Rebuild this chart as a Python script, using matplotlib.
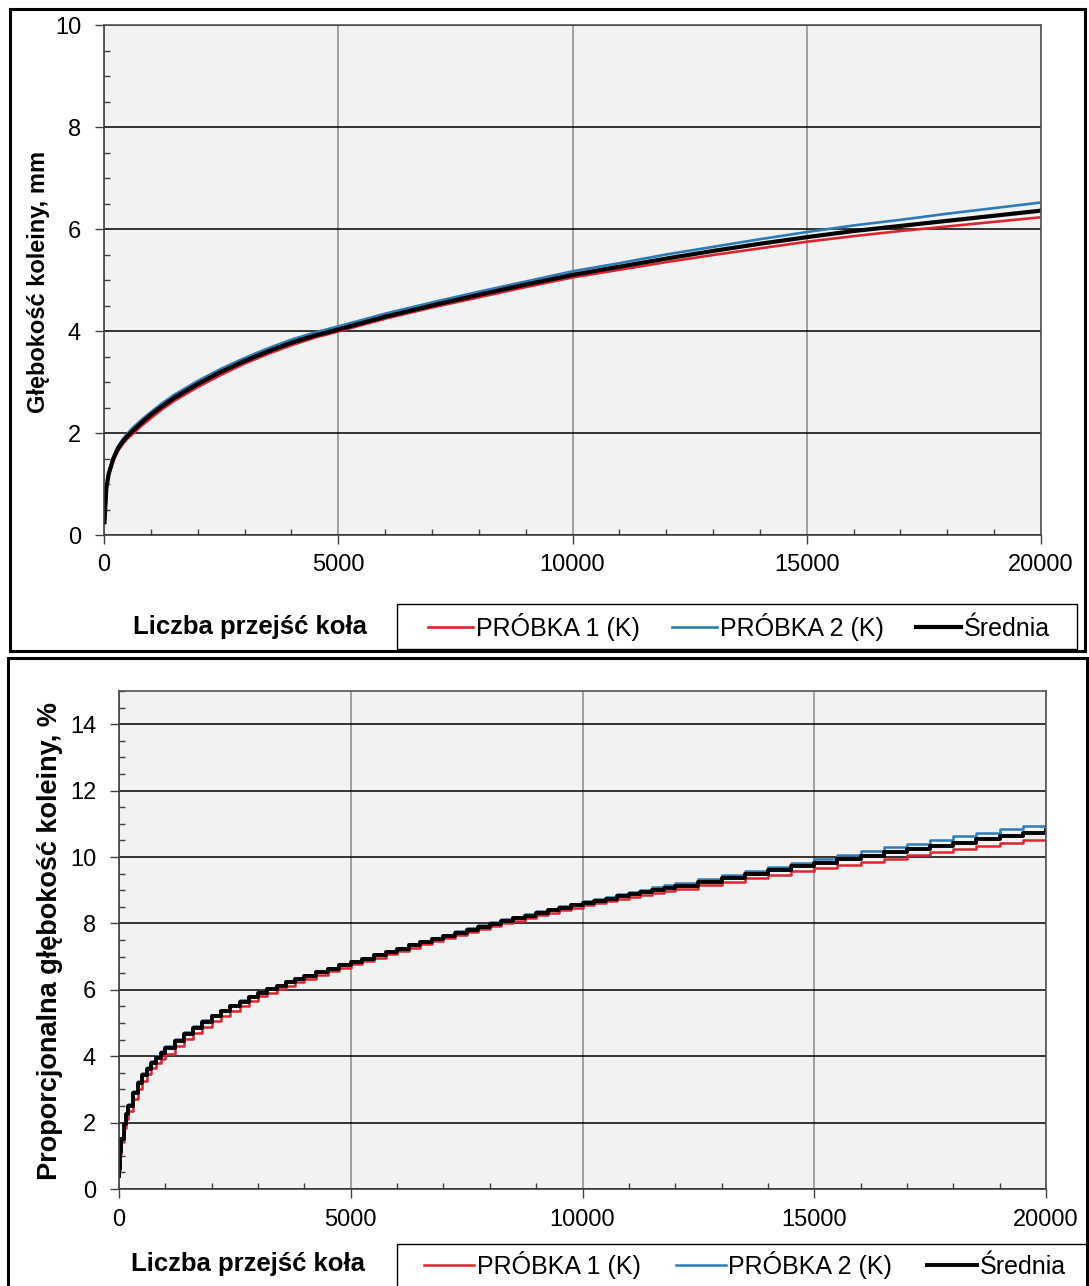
import matplotlib
matplotlib.use('Agg')
import matplotlib.pyplot as plt
from matplotlib.patches import Rectangle
from matplotlib.ticker import MultipleLocator

plt.rcParams['font.family'] = ['Liberation Sans', 'DejaVu Sans']

# ---------------- data ----------------
x_top = [10, 50, 100, 200, 300, 400, 500, 600, 800, 1000, 1250, 1500, 2000, 2500,
         3000, 3500, 4000, 4500, 5000, 6000, 7000, 8000, 9000, 10000, 11000, 12000,
         13000, 14000, 15000, 16000, 17000, 18000, 19000, 20000]
red_top = [0.25, 0.90, 1.17, 1.46, 1.65, 1.78, 1.89, 1.97, 2.14, 2.29, 2.47, 2.63, 2.90,
           3.14, 3.36, 3.55, 3.72, 3.87, 3.99, 4.24, 4.46, 4.66, 4.86, 5.05, 5.20, 5.35,
           5.49, 5.62, 5.75, 5.86, 5.96, 6.05, 6.14, 6.23]
blue_top = [0.25, 0.93, 1.22, 1.53, 1.74, 1.88, 1.99, 2.09, 2.26, 2.41, 2.59, 2.75, 3.02,
            3.26, 3.47, 3.66, 3.83, 3.97, 4.09, 4.34, 4.56, 4.77, 4.97, 5.17, 5.33, 5.50,
            5.65, 5.80, 5.94, 6.07, 6.18, 6.30, 6.41, 6.52]
mean_top = [0.25, 0.92, 1.20, 1.50, 1.70, 1.83, 1.94, 2.03, 2.20, 2.36, 2.53, 2.69, 2.96,
            3.20, 3.41, 3.60, 3.77, 3.91, 4.03, 4.28, 4.50, 4.71, 4.91, 5.10, 5.26, 5.42,
            5.57, 5.71, 5.84, 5.96, 6.06, 6.16, 6.26, 6.36]

x_bot = [0, 10, 25, 50, 100, 150, 200, 300, 400, 500, 600, 700, 800, 900,
         1000, 1200, 1400, 1600, 1800, 2000, 2200, 2400, 2600, 2800, 3000, 3200, 3400, 3600, 3800,
         4000, 4250, 4500, 4750, 5000, 5250, 5500, 5750, 6000, 6250, 6500, 6750,
         7000, 7250, 7500, 7750, 8000, 8250, 8500, 8750, 9000, 9250, 9500, 9750,
         10000, 10250, 10500, 10750, 11000, 11250, 11500, 11750,
         12000, 12500, 13000, 13500, 14000, 14500, 15000, 15500, 16000, 16500,
         17000, 17500, 18000, 18500, 19000, 19500, 20000]
red_bot = [0.38, 0.57, 1.05, 1.43, 1.85, 2.12, 2.35, 2.72, 3.01, 3.25, 3.45, 3.63, 3.79, 3.93,
           4.07, 4.30, 4.51, 4.70, 4.88, 5.06, 5.22, 5.37, 5.51, 5.65, 5.80, 5.91, 6.02, 6.12, 6.22,
           6.33, 6.44, 6.56, 6.66, 6.77, 6.87, 6.97, 7.07, 7.17, 7.27, 7.37, 7.47,
           7.56, 7.65, 7.74, 7.83, 7.92, 8.00, 8.08, 8.16, 8.24, 8.32, 8.39, 8.47,
           8.54, 8.60, 8.67, 8.73, 8.80, 8.86, 8.92, 8.98,
           9.04, 9.15, 9.26, 9.37, 9.47, 9.57, 9.66, 9.76, 9.86, 9.95,
           10.05, 10.14, 10.23, 10.32, 10.41, 10.50, 10.59]
blue_bot = [0.40, 0.62, 1.12, 1.53, 2.00, 2.30, 2.56, 2.94, 3.24, 3.48, 3.68, 3.86, 4.02, 4.16,
            4.30, 4.53, 4.73, 4.92, 5.09, 5.25, 5.40, 5.55, 5.68, 5.81, 5.93, 6.04, 6.15, 6.25, 6.35,
            6.45, 6.56, 6.67, 6.77, 6.87, 6.97, 7.07, 7.17, 7.27, 7.37, 7.47, 7.57,
            7.66, 7.76, 7.85, 7.94, 8.03, 8.12, 8.20, 8.28, 8.36, 8.44, 8.51, 8.59,
            8.66, 8.74, 8.81, 8.88, 8.95, 9.02, 9.09, 9.16,
            9.22, 9.35, 9.47, 9.59, 9.71, 9.83, 9.95, 10.07, 10.18, 10.29,
            10.40, 10.51, 10.62, 10.73, 10.83, 10.94, 11.04]
mean_bot = [0.40, 0.60, 1.10, 1.50, 1.95, 2.25, 2.50, 2.88, 3.18, 3.42, 3.62, 3.80, 3.96, 4.10,
            4.24, 4.47, 4.67, 4.86, 5.03, 5.20, 5.35, 5.50, 5.64, 5.77, 5.90, 6.01, 6.12, 6.22, 6.32,
            6.42, 6.53, 6.64, 6.74, 6.84, 6.94, 7.04, 7.14, 7.24, 7.34, 7.44, 7.54,
            7.63, 7.72, 7.81, 7.90, 7.99, 8.07, 8.15, 8.23, 8.31, 8.39, 8.46, 8.54,
            8.61, 8.68, 8.75, 8.82, 8.88, 8.95, 9.01, 9.08,
            9.14, 9.26, 9.38, 9.50, 9.61, 9.72, 9.83, 9.94, 10.04, 10.14,
            10.24, 10.34, 10.43, 10.53, 10.62, 10.71, 10.80]

series_labels = ['PRÓBKA 1 (K)', 'PRÓBKA 2 (K)', 'Średnia']
xlabel_text = 'Liczba przejść koła'
ylabel_top = 'Głębokość koleiny, mm'
ylabel_bot = 'Proporcjonalna głębokość koleiny, %'

RED = '#dc2530'
BLUE = '#2f7bb5'
BLACK = '#000000'

# ---------------- figure ----------------
W, H = 1089, 1286
fig = plt.figure(figsize=(W / 100, H / 100), dpi=100)


def box(l, t, r, b):
    return [l / W, 1 - b / H, (r - l) / W, (b - t) / H]


def fx(px):
    return px / W


def fy(py):
    return 1 - py / H


def setup(ax, ymax, xpad):
    ax.set_facecolor('#f2f2f2')
    ax.set_xlim(0, 20000)
    ax.set_ylim(0, ymax)
    ax.xaxis.set_major_locator(MultipleLocator(5000))
    ax.xaxis.set_minor_locator(MultipleLocator(1000))
    ax.yaxis.set_major_locator(MultipleLocator(2))
    ax.yaxis.set_minor_locator(MultipleLocator(0.5))
    ax.tick_params(which='major', direction='out', length=6.5, width=1.0,
                   color='#404040', labelsize=17)
    ax.tick_params(axis='y', which='major', pad=10)
    ax.tick_params(axis='x', which='major', pad=xpad)
    ax.tick_params(which='minor', direction='in', length=4.3, width=1.0, color='#404040')
    ax.grid(True, axis='y', which='major', color='black', lw=1.1)
    ax.grid(True, axis='x', which='major', color='#8a8a8a', lw=1.1)
    ax.set_axisbelow(True)
    for s in ['left', 'bottom']:
        ax.spines[s].set_color('#404040')
        ax.spines[s].set_linewidth(1.2)
    for s in ['top', 'right']:
        ax.spines[s].set_color('#555555')
        ax.spines[s].set_linewidth(1.2)


# top panel
ax1 = fig.add_axes(box(104, 25, 1041, 535))
setup(ax1, 10, 7)
ax1.plot(x_top, red_top, color=RED, lw=1.9, label=series_labels[0])
ax1.plot(x_top, blue_top, color=BLUE, lw=1.9, label=series_labels[1])
ax1.plot(x_top, mean_top, color=BLACK, lw=3.0, label=series_labels[2])

# bottom panel
ax2 = fig.add_axes(box(119, 691, 1046, 1189))
setup(ax2, 15, 8)
ax2.plot(x_bot, red_bot, color=RED, lw=1.8, drawstyle='steps-post', label=series_labels[0])
ax2.plot(x_bot, blue_bot, color=BLUE, lw=1.8, drawstyle='steps-post', label=series_labels[1])
ax2.plot(x_bot, mean_bot, color=BLACK, lw=2.8, drawstyle='steps-post', label=series_labels[2])

# legends
ax1.legend(loc='center', bbox_to_anchor=(fx(739), fy(627)), bbox_transform=fig.transFigure,
           ncol=3, frameon=False, fontsize=18, handlelength=1.8, handletextpad=0.1,
           columnspacing=1.3, borderpad=0, borderaxespad=0)
ax2.legend(loc='center', bbox_to_anchor=(fx(745), fy(1265)), bbox_transform=fig.transFigure,
           ncol=3, frameon=False, fontsize=18, handlelength=2.0, handletextpad=0.1,
           columnspacing=1.4, borderpad=0, borderaxespad=0)

# axis titles
fig.text(fx(38), fy(282), ylabel_top, rotation=90, ha='center', va='center',
         fontsize=17, fontweight='bold')
fig.text(fx(50), fy(941), ylabel_bot, rotation=90, ha='center', va='center',
         fontsize=19.5, fontweight='bold')
fig.text(fx(133), fy(627), xlabel_text, ha='left', va='center', fontsize=18.5, fontweight='bold')
fig.text(fx(131), fy(1264), xlabel_text, ha='left', va='center', fontsize=18.5, fontweight='bold')


# frames and legend boxes
def rect(l, t, r, b, lw):
    fig.add_artist(Rectangle((fx(l), fy(b)), (r - l) / W, (b - t) / H,
                             transform=fig.transFigure, fill=False, ec='black', lw=lw))


rect(10, 9, 1085, 651, 2.2)
rect(8, 658, 1087, 1295, 2.2)
rect(397, 604, 1077, 649, 1.0)
rect(397, 1244, 1100, 1300, 1.0)

fig.savefig('out.png', dpi=100, facecolor='white')
